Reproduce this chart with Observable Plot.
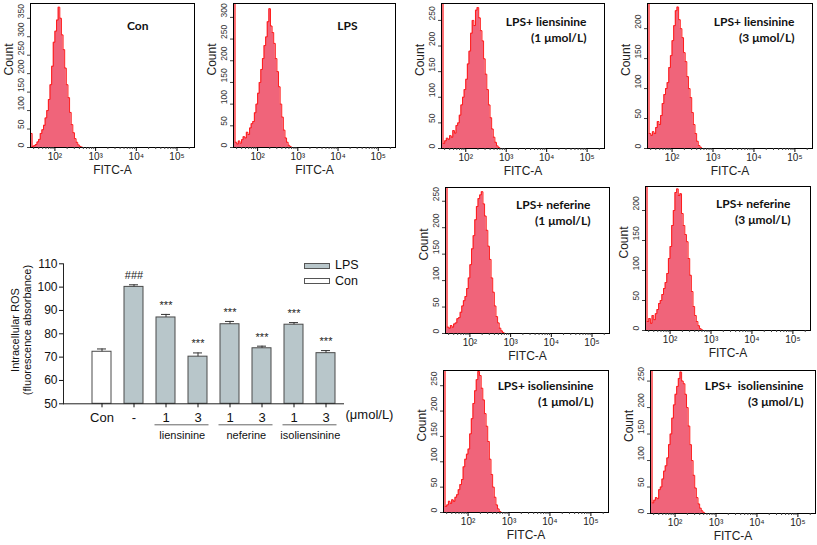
<!DOCTYPE html>
<html><head><meta charset="utf-8">
<script src="https://cdn.jsdelivr.net/npm/d3@7"></script>
<script src="https://cdn.jsdelivr.net/npm/@observablehq/plot@0.6"></script>
<style>
body{margin:0;background:#fff;}
#root{position:relative;width:817px;height:545px;overflow:hidden;background:#fff;font-family:"Liberation Sans",Arial,sans-serif;}
.pane{position:absolute;}
.leg{position:absolute;font-size:12.5px;color:#111;line-height:15.5px;}
.leg .sw{display:inline-block;width:24px;height:4px;border:1px solid #555;margin-right:5px;vertical-align:middle;}
.ylab{position:absolute;width:160px;height:14px;line-height:14px;text-align:center;font-size:11px;color:#111;transform:rotate(-90deg);transform-origin:50% 50%;white-space:nowrap;}
</style></head>
<body><div id="root"></div>
<script>
// ---------- histogram data (FITC-A, log10 bin starts) ----------
const binStarts = [1.40,1.44,1.48,1.52,1.56,1.60,1.64,1.68,1.72,1.76,1.80,1.84,1.88,1.92,1.96,2.00,2.04,2.08,2.12,2.16,2.20,2.24,2.28,2.32,2.36,2.40,2.44,2.48,2.52,2.56,2.60,2.64,2.68,2.72,2.76,2.80,2.84,2.88,2.92,2.96];
const conCounts  = [38,3,5,8,15,22,38,48,60,80,100,130,170,220,285,315,345,380,350,305,265,215,170,135,95,62,40,24,14,7,3,1,0,0,0,0,0,0,0,0];
const lpsCounts  = [2000,12,8,15,10,18,25,22,35,30,45,55,60,80,100,125,150,180,205,235,255,290,320,280,265,240,205,175,140,100,70,40,22,12,5,2,0,0,0,0];
const lien1Counts = [2000,10,15,20,18,25,22,35,30,45,50,65,85,100,115,135,165,190,225,250,240,270,275,255,230,210,175,145,115,85,60,38,22,12,5,2,0,0,0,0];
const lien3Counts = [2000,25,22,28,25,35,45,40,55,75,90,100,110,135,155,180,205,230,236,215,200,185,160,145,120,100,85,60,40,25,12,5,2,0,0,0,0,0,0,0];
const nef1Counts = [2000,12,10,15,12,18,20,28,30,40,52,62,70,85,105,130,160,185,215,240,255,262,268,245,222,195,165,140,105,78,52,32,20,10,5,2,0,0,0,0];
const nef3Counts = [2000,15,20,12,25,18,28,35,45,50,60,70,80,95,120,140,175,200,230,236,225,228,195,175,160,148,120,92,65,40,25,15,8,3,1,0,0,0,0,0];
const iso1Counts = [2000,12,15,22,18,25,22,30,35,45,55,65,90,105,115,125,155,185,215,240,262,278,270,245,222,195,170,140,105,75,50,30,15,7,2,0,0,0,0,0];
const iso3Counts = [2000,20,25,30,28,45,50,65,80,90,105,130,150,180,205,225,240,255,267,250,245,225,200,165,130,100,72,48,30,18,10,5,2,0,0,0,0,0,0,0];

const majorTicks = [100,1000,10000,100000];
const minorTicks = [30,40,50,60,70,80,90,200,300,400,500,600,700,800,900,2000,3000,4000,5000,6000,7000,8000,9000,20000,30000,40000,50000,60000,70000,80000,90000,200000];
const ticks350 = [0,50,100,150,200,250,300,350];
const ticks300 = [0,50,100,150,200,250,300];
const ticks250 = [0,50,100,150,200,250];
const ticks200 = [0,50,100,150,200];

const titles = ["Con","LPS","LPS+ liensinine\n(1 μmol/L)","LPS+ liensinine\n(3 μmol/L)","LPS+ neferine\n(1 μmol/L)","LPS+ neferine\n(3 μmol/L)","LPS+ isoliensinine\n(1 μmol/L)","LPS+  isoliensinine\n(3 μmol/L)"];

// ---------- bar chart data ----------
const barKeys   = ["Con","LPS","lien1","lien3","nef1","nef3","iso1","iso3"];
const barLabels = ["Con","-","1","3","1","3","1","3"];
const barSeries = ["Con","LPS","LPS","LPS","LPS","LPS","LPS","LPS"];
const barValues = [72.3,100.1,87.0,70.2,84.1,73.8,83.9,71.7];
const barErrors = [1.2,0.9,1.3,1.6,1.2,0.9,0.9,1.1];
const barSig    = ["","###","***","***","***","***","***","***"];
const yTicksBar = [50,60,70,80,90,100,110];
const yLabelLines = ["Intracellular ROS","(fluorescence absorbance)"];
const groupNames = ["liensinine","neferine","isoliensinine"];
const groupFirst = ["lien1","nef1","iso1"];
const groupLast  = ["lien3","nef3","iso3"];

// ---------- layout ----------
const layout = [
  {counts: conCounts,   l:30,  r:194, t:3,   b:147, yMax:390, ticks:ticks350, dx:-46, dy:15},
  {counts: lpsCounts,   l:233, r:395, t:3,   b:147, yMax:332, ticks:ticks300, dx:-38, dy:15},
  {counts: lien1Counts, l:441, r:604, t:3,   b:148, yMax:283, ticks:ticks250, dx:-18, dy:11},
  {counts: lien3Counts, l:647, r:812, t:3,   b:148, yMax:242, ticks:ticks200, dx:-18, dy:11},
  {counts: nef1Counts,  l:445, r:609, t:187, b:333, yMax:276, ticks:ticks250, dx:-19, dy:10},
  {counts: nef3Counts,  l:645, r:810, t:186, b:330, yMax:240, ticks:ticks200, dx:-20, dy:10},
  {counts: iso1Counts,  l:443, r:608, t:370, b:512, yMax:280, ticks:ticks250, dx:-15, dy:8},
  {counts: iso3Counts,  l:650, r:815, t:370, b:513, yMax:270, ticks:ticks250, dx:-12, dy:8}
];

const root = document.getElementById("root");
const sup = {2:"²",3:"³",4:"⁴",5:"⁵"};
const PINK = "#f0647a", RED = "#ff1a1a";

layout.forEach((p, k) => {
  const data = binStarts.map((b, i) => ({x: Math.pow(10, b), y: p.counts[i]}));
  const mL = 30, mR = 2, mT = 3, mB = 33;
  const chart = Plot.plot({
    width: p.r - p.l + mL + mR,
    height: p.b - p.t + mT + mB,
    marginLeft: mL, marginRight: mR, marginTop: mT, marginBottom: mB,
    style: {fontFamily: "'Liberation Sans', Arial, sans-serif", background: "transparent"},
    x: {type: "log", domain: [Math.pow(10, 1.4), Math.pow(10, 5.43)]},
    y: {domain: [0, p.yMax]},
    marks: [
      Plot.areaY(data, {x: "x", y: "y", curve: "step-after", fill: PINK, clip: true}),
      Plot.lineY(data, {x: "x", y: "y", curve: "step-after", stroke: RED, strokeWidth: 1, clip: true}),
      Plot.frame({stroke: "#000", strokeWidth: 1}),
      Plot.axisX({ticks: minorTicks, tickSize: 2, tickFormat: () => "", label: null, stroke: "#444"}),
      Plot.axisX({ticks: majorTicks, tickSize: 4, tickPadding: 1, fontSize: 10, label: null,
                  tickFormat: d => "10" + sup[Math.round(Math.log10(d))], fill: "#222"}),
      Plot.axisY({ticks: p.ticks, tickSize: 3, tickFormat: () => "", label: null, stroke: "#444"}),
      Plot.text(p.ticks, {y: d => d, frameAnchor: "left", rotate: -90, dx: -9, fontSize: 8.5, fill: "#333", text: d => String(d)}),
      Plot.text(["Count"], {frameAnchor: "left", rotate: -90, dx: -21, fontSize: 12, fill: "#222"}),
      Plot.text(["FITC-A"], {frameAnchor: "bottom", dy: 26, fontSize: 12, fill: "#222"}),
      Plot.text([titles[k]], {frameAnchor: "top-right", textAnchor: "end", lineAnchor: "top", dx: p.dx, dy: p.dy,
                  fontFamily: "Lato, 'Open Sans', sans-serif", fontWeight: "bold", fontSize: 12, lineHeight: 1.35, fill: "#111"})
    ]
  });
  const div = document.createElement("div");
  div.className = "pane";
  div.style.left = (p.l - mL) + "px";
  div.style.top = (p.t - mT) + "px";
  div.appendChild(chart);
  root.appendChild(div);
});

// ---------- bar chart ----------
const bars = barKeys.map((k, i) => ({key: k, label: barLabels[i], series: barSeries[i], value: barValues[i], err: barErrors[i], sig: barSig[i]}));
const groups = groupNames.map((n, i) => ({name: n, first: groupFirst[i], last: groupLast[i]}));
const labelOf = Object.fromEntries(barKeys.map((k, i) => [k, barLabels[i]]));
const LPSFILL = "#b8c6ca", BARSTROKE = "#4a4a4a";

const barChart = Plot.plot({
  width: 400, height: 205,
  marginLeft: 63, marginRight: 57, marginTop: 23.3, marginBottom: 41.7,
  style: {fontFamily: "'Liberation Sans', Arial, sans-serif", background: "transparent", color: "#111"},
  x: {domain: barKeys, paddingInner: 0.4, paddingOuter: 0.495, align: 0.78},
  y: {domain: [50, 110]},
  marks: [
    Plot.barY(bars.filter(d => d.series === "LPS"), {x: "key", y1: 50, y2: "value", fill: LPSFILL, stroke: BARSTROKE, strokeWidth: 1}),
    Plot.barY(bars.filter(d => d.series === "Con"), {x: "key", y1: 50, y2: "value", fill: "#fff", stroke: BARSTROKE, strokeWidth: 1}),
    Plot.ruleX(bars, {x: "key", y1: "value", y2: d => d.value + d.err, stroke: "#333"}),
    Plot.tickY(bars, {x: "key", y: d => d.value + d.err, insetLeft: 5, insetRight: 5, stroke: "#333"}),
    Plot.text(bars, {x: "key", y: d => d.value + d.err, text: "sig", dy: -9, fontSize: 11, fill: "#222"}),
    Plot.frame({anchor: "left", stroke: "#222"}),
    Plot.frame({anchor: "bottom", stroke: "#222"}),
    Plot.axisY({ticks: yTicksBar, tickSize: 4, tickPadding: 2, fontSize: 12, label: null}),
    Plot.axisX({tickSize: 4, tickPadding: 4.5, fontSize: 13, label: null, tickFormat: k => labelOf[k]}),
    Plot.text(["(μmol/L)"], {frameAnchor: "bottom-right", textAnchor: "start", dx: 2, dy: 15, fontSize: 13}),
    Plot.ruleY(groups, {y: 50, x1: "first", x2: "last", dy: 21, insetLeft: -1.5, insetRight: -1.5, stroke: "#666"}),
    Plot.text(groups, {x: "first", y: 50, text: "name", dx: 16.3, dy: 32, fontSize: 11})
  ]
});
const bdiv = document.createElement("div");
bdiv.className = "pane";
bdiv.style.left = "0px";
bdiv.style.top = "240px";
bdiv.appendChild(barChart);
root.appendChild(bdiv);

// y-axis title of the bar chart (two rotated lines)
[15, 27].forEach((cx, i) => {
  const d = document.createElement("div");
  d.className = "ylab";
  d.style.left = (cx - 80) + "px";
  d.style.top = (330 - 7) + "px";
  d.textContent = yLabelLines[i];
  root.appendChild(d);
});

// legend
const leg = document.createElement("div");
leg.className = "leg";
leg.style.left = "304px";
leg.style.top = "258px";
leg.innerHTML = ["LPS","Con"].map(s =>
  `<div><span class="sw" style="background:${s === "LPS" ? LPSFILL : "#fff"}"></span>${s}</div>`).join("");
root.appendChild(leg);
</script>
</body></html>
